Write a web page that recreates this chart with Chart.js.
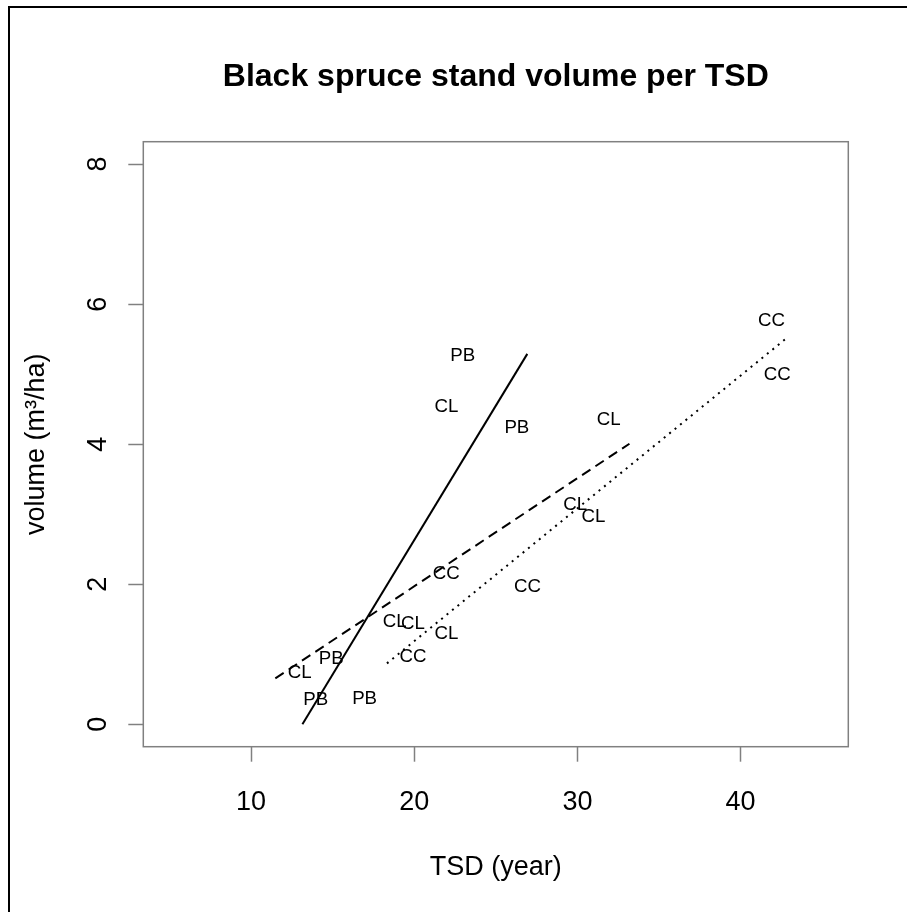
<!DOCTYPE html>
<html><head><meta charset="utf-8">
<script src="https://cdn.jsdelivr.net/npm/chart.js@4/dist/chart.umd.min.js"></script>
<style>html,body{margin:0;padding:0;background:#fff;} canvas{display:block;}</style>
</head><body>
<canvas id="c" width="907" height="912"></canvas>
<script>
// ---- data ----
const titleText = "Black spruce stand volume per TSD";
const xTitle = "TSD (year)";
const yTitle = "volume (m³/ha)";
const xTicks = [10, 20, 30, 40];
const yTicks = [0, 2, 4, 6, 8];

const pbX = [22.98, 26.29, 14.92, 13.96, 16.96];
const pbY = [5.28, 4.26, 0.95, 0.37, 0.38];
const clX = [21.97, 31.92, 29.86, 30.99, 18.80, 19.93, 21.97, 12.98];
const clY = [4.55, 4.37, 3.16, 2.98, 1.48, 1.45, 1.32, 0.76];
const ccX = [41.90, 42.25, 21.97, 26.94, 19.92];
const ccY = [5.78, 5.01, 2.17, 1.99, 0.99];

const pbFitX = [13.15, 26.93];
const pbFitY = [0.00, 5.29];
const clFitX = [11.49, 33.19];
const clFitY = [0.656, 4.007];
const ccFitX = [18.33, 42.74];
const ccFitY = [0.87, 5.50];

const FONT = '"Liberation Sans", Arial, Helvetica, sans-serif';
const AXIS_GRAY = '#808080';

function pts(xs, ys) { return xs.map((x, i) => ({ x: x, y: ys[i] })); }

const rPlugin = {
  id: 'rlook',
  beforeDraw(chart) {
    const ctx = chart.ctx;
    ctx.save();
    ctx.fillStyle = '#ffffff';
    ctx.fillRect(0, 0, chart.width, chart.height);
    ctx.fillStyle = '#000000';
    ctx.fillRect(8, 6, 2, chart.height - 6);
    ctx.fillRect(8, 6, chart.width - 8, 2);
    ctx.restore();
  },
  afterDraw(chart) {
    const ctx = chart.ctx;
    const a = chart.chartArea;
    const xs = chart.scales.x, ys = chart.scales.y;
    ctx.save();
    // plot box
    ctx.strokeStyle = AXIS_GRAY;
    ctx.lineWidth = 1.5;
    ctx.strokeRect(a.left, a.top, a.right - a.left, a.bottom - a.top);

    ctx.fillStyle = '#000000';
    // title
    ctx.font = 'bold 32px ' + FONT;
    ctx.textAlign = 'center';
    ctx.textBaseline = 'alphabetic';
    ctx.fillText(titleText, (a.left + a.right) / 2, 86);

    // x tick labels
    ctx.font = '27px ' + FONT;
    xs.ticks.forEach(t => {
      ctx.fillText(String(t.value), xs.getPixelForValue(t.value), 810);
    });
    // x title
    ctx.fillText(xTitle, (a.left + a.right) / 2, 875);

    // y tick labels (rotated, R style)
    ys.ticks.forEach(t => {
      ctx.save();
      ctx.translate(106, ys.getPixelForValue(t.value));
      ctx.rotate(-Math.PI / 2);
      ctx.fillText(String(t.value), 0, 0);
      ctx.restore();
    });
    // y title
    ctx.save();
    ctx.translate(44, (a.top + a.bottom) / 2);
    ctx.rotate(-Math.PI / 2);
    ctx.fillText(yTitle, 0, 0);
    ctx.restore();

    // point labels
    const fs = 18.7;
    ctx.font = fs + 'px ' + FONT;
    chart.data.datasets.forEach((ds, di) => {
      if (!ds.isText) return;
      const meta = chart.getDatasetMeta(di);
      meta.data.forEach(el => {
        ctx.fillText(ds.label, el.x, el.y + 0.358 * fs);
      });
    });
    ctx.restore();
  }
};

const tickGrid = {
  display: true,
  drawOnChartArea: false,
  drawTicks: true,
  tickLength: 15,
  tickColor: AXIS_GRAY,
  tickWidth: 1.5,
  color: AXIS_GRAY
};

new Chart(document.getElementById('c'), {
  type: 'scatter',
  data: {
    datasets: [
      { label: 'PB', isText: true, data: pts(pbX, pbY), pointRadius: 0, showLine: false },
      { label: 'CL', isText: true, data: pts(clX, clY), pointRadius: 0, showLine: false },
      { label: 'CC', isText: true, data: pts(ccX, ccY), pointRadius: 0, showLine: false },
      { label: 'PB fit', data: pts(pbFitX, pbFitY), showLine: true, pointRadius: 0,
        borderColor: '#000', borderWidth: 2, borderDash: [] },
      { label: 'CL fit', data: pts(clFitX, clFitY), showLine: true, pointRadius: 0,
        borderColor: '#000', borderWidth: 2, borderDash: [10, 6] },
      { label: 'CC fit', data: pts(ccFitX, ccFitY), showLine: true, pointRadius: 0,
        borderColor: '#000', borderWidth: 2, borderDash: [2, 5] }
    ]
  },
  options: {
    responsive: false,
    animation: false,
    devicePixelRatio: 1,
    events: [],
    layout: { padding: { left: 0, right: 58.7, top: 141.7, bottom: 0 } },
    plugins: { legend: { display: false }, title: { display: false }, tooltip: { enabled: false } },
    scales: {
      x: {
        type: 'linear', min: 3.4, max: 46.6,
        afterBuildTicks: s => { s.ticks = xTicks.map(v => ({ value: v })); },
        afterFit: s => { s.height = 165.3; },
        ticks: { display: false },
        grid: tickGrid,
        border: { display: false }
      },
      y: {
        type: 'linear', min: -0.32, max: 8.32,
        afterBuildTicks: s => { s.ticks = yTicks.map(v => ({ value: v })); },
        afterFit: s => { s.width = 143.3; },
        ticks: { display: false },
        grid: tickGrid,
        border: { display: false }
      }
    }
  },
  plugins: [rPlugin]
});
</script>
</body></html>
